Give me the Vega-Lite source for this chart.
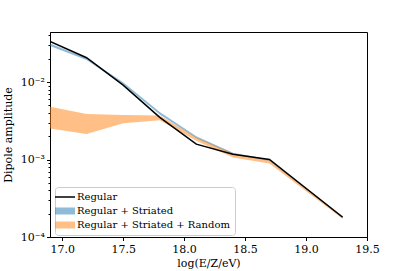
{
  "$schema": "https://vega.github.io/schema/vega-lite/v6.json",
  "width": 317,
  "height": 205,
  "autosize": {"type": "none"},
  "padding": {"left": 50, "top": 32, "right": 40, "bottom": 34},
  "background": "white",
  "config": {
    "font": "DejaVu Serif",
    "view": {"stroke": "#000", "strokeWidth": 1},
    "axis": {"grid": false, "domainColor": "#000", "tickColor": "#000", "labelColor": "#000", "titleColor": "#000", "labelFont": "DejaVu Serif", "titleFont": "DejaVu Serif", "labelFontSize": 11, "titleFontSize": 11, "titleFontWeight": "normal"},
    "legend": {"labelFont": "DejaVu Serif", "labelFontSize": 10}
  },
  "datasets": {
    "bands": [
      {"e": 16.9, "series": "Regular + Striated", "lo": 0.0292, "hi": 0.0315},
      {"e": 17.2, "series": "Regular + Striated", "lo": 0.0192, "hi": 0.0204},
      {"e": 17.5, "series": "Regular + Striated", "lo": 0.0093, "hi": 0.0099},
      {"e": 17.8, "series": "Regular + Striated", "lo": 0.0038, "hi": 0.0041},
      {"e": 18.1, "series": "Regular + Striated", "lo": 0.00188, "hi": 0.002},
      {"e": 18.4, "series": "Regular + Striated", "lo": 0.00116, "hi": 0.00122},
      {"e": 18.7, "series": "Regular + Striated", "lo": 0.00096, "hi": 0.001},
      {"e": 19.3, "series": "Regular + Striated", "lo": 0.000178, "hi": 0.000186},
      {"e": 16.9, "series": "Regular + Striated + Random", "lo": 0.00252, "hi": 0.00481},
      {"e": 17.2, "series": "Regular + Striated + Random", "lo": 0.00213, "hi": 0.00386},
      {"e": 17.5, "series": "Regular + Striated + Random", "lo": 0.00293, "hi": 0.00375},
      {"e": 17.8, "series": "Regular + Striated + Random", "lo": 0.0032, "hi": 0.0037},
      {"e": 18.1, "series": "Regular + Striated + Random", "lo": 0.00175, "hi": 0.00193},
      {"e": 18.4, "series": "Regular + Striated + Random", "lo": 0.00106, "hi": 0.0012},
      {"e": 18.7, "series": "Regular + Striated + Random", "lo": 0.00089, "hi": 0.00097},
      {"e": 19.3, "series": "Regular + Striated + Random", "lo": 0.000172, "hi": 0.000185}
    ],
    "line": [
      {"e": 16.9, "series": "Regular", "y": 0.0335},
      {"e": 17.2, "series": "Regular", "y": 0.0206},
      {"e": 17.5, "series": "Regular", "y": 0.0091},
      {"e": 17.8, "series": "Regular", "y": 0.0035},
      {"e": 18.1, "series": "Regular", "y": 0.00158},
      {"e": 18.4, "series": "Regular", "y": 0.00117},
      {"e": 18.7, "series": "Regular", "y": 0.001},
      {"e": 19.3, "series": "Regular", "y": 0.00018}
    ]
  },
  "layer": [
    {
      "data": {"name": "bands"},
      "mark": {"type": "area", "fillOpacity": 0.5, "clip": true},
      "encoding": {
        "x": {"field": "e", "type": "quantitative", "scale": {"domain": [16.9, 19.5], "nice": false, "zero": false},
          "axis": {"title": "log(E/Z/eV)", "values": [17, 17.5, 18, 18.5, 19, 19.5], "format": ".1f", "tickSize": 3.5, "labelPadding": 3, "titlePadding": 3, "labelFlush": false}},
        "y": {"field": "lo", "type": "quantitative",
          "scale": {"type": "log", "domain": [0.0001, 0.0442], "nice": false},
          "axis": {"title": "Dipole amplitude", "titlePadding": 7,
            "values": [0.0001, 0.0002, 0.0003, 0.0004, 0.0005, 0.0006, 0.0007, 0.0008, 0.0009, 0.001, 0.002, 0.003, 0.004, 0.005, 0.006, 0.007, 0.008, 0.009, 0.01, 0.02, 0.03, 0.04],
            "labelExpr": "datum.value == 0.0001 ? '10⁻⁴' : datum.value == 0.001 ? '10⁻³' : datum.value == 0.01 ? '10⁻²' : ''",
            "tickSize": {"condition": {"test": "datum.value == 0.0001 || datum.value == 0.001 || datum.value == 0.01", "value": 3.5}, "value": 2},
            "labelPadding": 2}},
        "y2": {"field": "hi"},
        "order": {"field": "series"},
        "color": {"field": "series", "type": "nominal",
          "scale": {"domain": ["Regular", "Regular + Striated", "Regular + Striated + Random"], "range": ["#000000", "#1f77b4", "#ff7f0e"]},
          "legend": {"title": null, "orient": "none", "legendX": 5, "legendY": 155,
            "fillColor": "white", "strokeColor": "#cccccc", "cornerRadius": 3, "padding": 5,
            "symbolSize": 400, "labelOffset": 7, "rowPadding": 4,
            "encode": {"symbols": {"update": {
              "shape": {"signal": "datum.value === 'Regular' ? 'M-1,0H1' : 'M-1,-0.35H1V0.35H-1Z'"},
              "strokeWidth": {"signal": "datum.value === 'Regular' ? 1.5 : 0"},
              "stroke": {"signal": "datum.value === 'Regular' ? '#000' : 'transparent'"},
              "fill": {"signal": "datum.value === 'Regular' ? 'transparent' : (datum.value === 'Regular + Striated' ? '#1f77b4' : '#ff7f0e')"},
              "fillOpacity": {"value": 0.5},
              "opacity": {"value": 1}
            }}}}}
      }
    },
    {
      "data": {"name": "line"},
      "mark": {"type": "line", "strokeWidth": 1.5, "clip": true},
      "encoding": {
        "x": {"field": "e", "type": "quantitative"},
        "y": {"field": "y", "type": "quantitative"},
        "color": {"field": "series", "type": "nominal"}
      }
    }
  ]
}
